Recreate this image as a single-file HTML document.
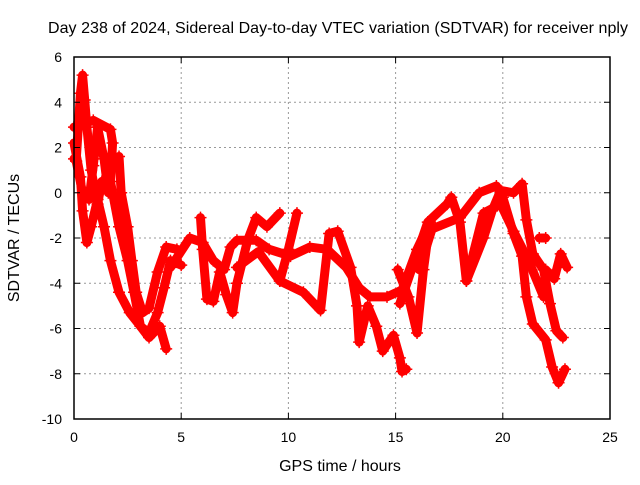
<!DOCTYPE html>
<html><head><meta charset="utf-8"><style>
body{margin:0;background:#fff}
svg text{font-family:"Liberation Sans",sans-serif;font-size:14px;fill:#000}
svg text.big{font-size:16px}
</style></head><body>
<svg width="640" height="480" xmlns="http://www.w3.org/2000/svg">
<rect width="640" height="480" fill="#fff"/>
<g id="grid"></g><g id="series"></g><g id="axes"></g>
<text class="big" x="338" y="33" text-anchor="middle" textLength="580">Day 238 of 2024, Sidereal Day-to-day VTEC variation (SDTVAR) for receiver nply</text>
<text class="big" x="340" y="471" text-anchor="middle">GPS time / hours</text>
<text class="big" transform="translate(19,238) rotate(-90)" text-anchor="middle">SDTVAR / TECUs</text>
</svg>
<script>
const xTicks=[0,5,10,15,20,25];
const yTicks=[6,4,2,0,-2,-4,-6,-8,-10];
const t1=[[0,1.5],[0.1,1.4],[0.3,4.4],[0.4,5.2],[0.5,4.1],[0.6,2.9],[0.8,1],[1.1,-0.5],[1.3,0.5]];
const t2=[[0,2.9],[0.9,3.2],[1.7,2.8],[1.8,2.2],[1.7,0.5],[1.8,0],[2.1,-1.5],[2.5,-3],[2.8,-4.4],[3.1,-5.9],[3.5,-6.4],[4,-5.9],[4.3,-6.9]];
const t3=[[2.1,1.6],[2.2,0],[2.5,-1.5],[2.7,-3],[2.9,-4.4],[3.2,-5.3],[3.5,-5.1],[3.9,-3.5],[4.3,-2.4],[4.8,-2.5]];
const t4=[[0,2.2],[0.3,0.7],[0.4,-0.8],[0.6,-2.2],[0.8,-1.5],[1.1,-0.3],[1.4,-1.5],[1.7,-3],[2.1,-4.4],[2.6,-5.3],[3.1,-5.9],[3.5,-6.2],[3.9,-5.3],[4.2,-4.2],[4.5,-3],[5,-3.2]];
const t5=[[0.1,1.4],[0.4,0],[0.7,-0.3],[0.9,1.2],[1.1,2.9],[1.4,1.5],[1.6,0]];
const t6=[[4.5,-3.3],[5.4,-2],[6,-2.2],[6.5,-3],[7,-3.4],[7.3,-2.4],[7.6,-2.1],[8.5,-2.1],[9.1,-2.5],[10.1,-2.8],[11,-2.4],[11.8,-2.5],[12.7,-3.3],[13.3,-4.2],[13.8,-4.6],[14.6,-4.6],[15.3,-4.3],[16,-2.5],[16.6,-1.3]];
const t7=[[5.9,-1.1],[6,-2.5],[6.2,-4.7],[6.5,-4.8],[6.8,-3.5],[7.1,-4.5],[7.4,-5.3],[7.6,-4],[8.1,-2.1],[8.5,-1.1],[9,-1.5],[9.6,-0.9]];
const t8=[[7.6,-3.3],[8.6,-2.6],[9.6,-3.9],[10,-2.5],[10.4,-0.9]];
const t9=[[9.6,-3.9],[10.7,-4.4],[11.5,-5.2],[11.9,-1.8],[12.3,-1.7],[12.9,-3.3],[13.2,-5],[13.3,-6.6],[13.7,-5],[14.1,-5.9],[14.4,-7],[14.9,-6.3],[15.2,-7.3],[15.3,-7.9],[15.5,-7.8]];
const t10=[[15.1,-3.4],[15.6,-4.6],[16,-6.2],[16.3,-3.4],[16.6,-1.3]];
const t11=[[15.2,-4.9],[16.5,-1.3],[17.4,-0.5],[17.6,-0.2],[18,-1.3],[18.3,-3.9],[19.1,-2],[19.5,-0.8],[19.9,0.1],[20.5,0],[20.9,0.4],[21.1,-1.2],[21.4,-2.7],[21.9,-3.4],[22.2,-4.9],[22.5,-6.1],[22.8,-6.4]];
const t12=[[16.1,-3.4],[16.7,-1.6],[18,-1.1],[18.9,0],[19.7,0.3],[20,-0.2],[20.5,-1.8],[20.9,-2.8],[21.1,-4.6],[21.4,-5.8],[22,-6.5],[22.3,-7.7],[22.6,-8.4],[22.9,-7.8]];
const t13=[[18.3,-3.9],[19.1,-0.9],[19.9,-0.5],[20.5,-1.7],[21.2,-3],[21.9,-4.6],[22,-3.4],[22.4,-3.8],[22.7,-2.7],[23,-3.3]];
const t14=[[21.7,-2],[22,-2]];
const tracks=[t1,t2,t3,t4,t5,t6,t7,t8,t9,t10,t11,t12,t13,t14];
const X=v=>74+v*(610-74)/25, Y=v=>57+(6-v)*(419-57)/16;
const NS="http://www.w3.org/2000/svg";
function mk(p,tag,a){const e=document.createElementNS(NS,tag);for(const k in a)e.setAttribute(k,a[k]);p.appendChild(e);return e;}
const grid=document.getElementById('grid'),axes=document.getElementById('axes'),ser=document.getElementById('series');
xTicks.forEach(v=>{
 if(v>0&&v<25){const l=mk(grid,'line',{x1:X(v),x2:X(v),y1:57,y2:419,stroke:'#999','stroke-dasharray':'2,3'});
 
 }
 mk(axes,'line',{x1:X(v),x2:X(v),y1:419,y2:413,stroke:'#000'});
 mk(axes,'line',{x1:X(v),x2:X(v),y1:57,y2:63,stroke:'#000'});
 const t=mk(axes,'text',{x:X(v),y:442,'text-anchor':'middle'});t.textContent=v;
 
 
});
yTicks.forEach(v=>{
 if(v<6&&v>-10){const l=mk(grid,'line',{x1:74,x2:610,y1:Y(v),y2:Y(v),stroke:'#999','stroke-dasharray':'2,3'});
 
 }
 mk(axes,'line',{x1:74,x2:80,y1:Y(v),y2:Y(v),stroke:'#000'});
 mk(axes,'line',{x1:604,x2:610,y1:Y(v),y2:Y(v),stroke:'#000'});
 const t=mk(axes,'text',{x:62,y:Y(v)+5,'text-anchor':'end'});t.textContent=v;
 
 
});
const fr=mk(axes,'rect',{x:74,y:57,width:536,height:362,fill:'none',stroke:'#000','stroke-width':1.5});


tracks.forEach(tr=>{
 const p=mk(ser,'polyline',{points:tr.map(d=>X(d[0])+','+Y(d[1])).join(' '),fill:'none',stroke:'#f00','stroke-width':9,'stroke-linejoin':'round','stroke-linecap':'round'});
 
 
 tr.forEach(d=>{
  const m=mk(ser,'path',{d:`M${X(d[0])-6},${Y(d[1])}h12M${X(d[0])},${Y(d[1])-6}v12`,stroke:'#f00','stroke-width':1.5});
  
  
 });
});
</script>
</body></html>
